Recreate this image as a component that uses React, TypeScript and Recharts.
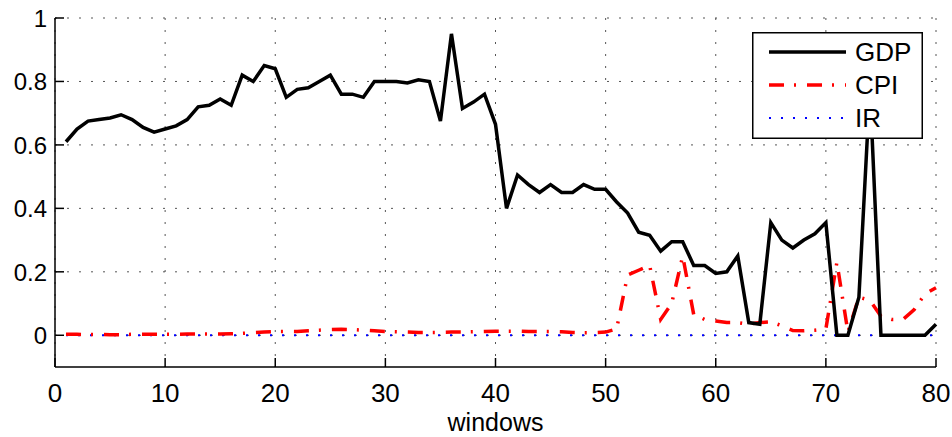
import { LineChart, Line, XAxis, YAxis, CartesianGrid, Legend } from "recharts";

const windows = Array.from({ length: 80 }, (_, i) => i + 1);

const gdp = [
  0.61, 0.65, 0.675, 0.68, 0.685, 0.695, 0.68, 0.655, 0.64, 0.65,
  0.66, 0.68, 0.72, 0.725, 0.745, 0.725, 0.82, 0.8, 0.85, 0.84,
  0.75, 0.775, 0.78, 0.8, 0.82, 0.76, 0.76, 0.75, 0.8, 0.8,
  0.8, 0.795, 0.805, 0.8, 0.675, 0.95, 0.715, 0.735, 0.76, 0.665,
  0.4, 0.505, 0.475, 0.45, 0.475, 0.45, 0.45, 0.475, 0.46, 0.46,
  0.42, 0.385, 0.325, 0.315, 0.265, 0.295, 0.295, 0.22, 0.22, 0.195,
  0.2, 0.25, 0.04, 0.035, 0.355, 0.3, 0.275, 0.3, 0.32, 0.355,
  0.0, 0.0, 0.12, 0.78, 0.0, 0.0, 0.0, 0.0, 0.0, 0.035,
];

const cpi = [
  0.003, 0.003, 0.002, 0.003, 0.002, 0.002, 0.003, 0.003, 0.003, 0.003,
  0.003, 0.004, 0.004, 0.004, 0.004, 0.005, 0.006, 0.008, 0.01, 0.012,
  0.012, 0.012, 0.014, 0.016, 0.018, 0.019, 0.018, 0.016, 0.014, 0.012,
  0.011, 0.01, 0.009, 0.009, 0.009, 0.01, 0.01, 0.011, 0.012, 0.013,
  0.013, 0.013, 0.012, 0.012, 0.012, 0.011, 0.009, 0.008, 0.008, 0.01,
  0.02, 0.19, 0.205, 0.22, 0.05, 0.1, 0.25, 0.065, 0.05, 0.045,
  0.04, 0.04, 0.035, 0.04, 0.042, 0.03, 0.015, 0.014, 0.016, 0.02,
  0.23, 0.01, 0.12, 0.11, 0.06, 0.05, 0.05, 0.08, 0.13, 0.15,
];

const ir = windows.map(() => 0);

const xTicks = [0, 10, 20, 30, 40, 50, 60, 70, 80];
const yTicks = [0, 0.2, 0.4, 0.6, 0.8, 1];

const data = windows.map((w, i) => ({ x: w, GDP: gdp[i], CPI: cpi[i], IR: ir[i] }));

const FONT = "'Liberation Sans', Arial, sans-serif";
const TICK = 9;

const fmtY = (v: number) => (v === 0 ? "0" : v === 1 ? "1" : v.toFixed(1));

const BottomTick = ({ x, y, payload }: any) => (
  <g>
    <line x1={x} x2={x} y1={y} y2={y - TICK} stroke="#000" strokeWidth={1.5} />
    <text x={x} y={y + 35} textAnchor="middle" fontSize={26} fontFamily={FONT} fill="#000">
      {payload.value}
    </text>
  </g>
);

const TopTick = ({ x, y }: any) => (
  <line x1={x} x2={x} y1={y} y2={y + TICK} stroke="#000" strokeWidth={1.5} />
);

const LeftTick = ({ x, y, payload }: any) => (
  <g>
    <line x1={x} x2={x + TICK} y1={y} y2={y} stroke="#000" strokeWidth={1.5} />
    <text x={x - 8} y={y + 9} textAnchor="end" fontSize={24} fontFamily={FONT} fill="#000">
      {fmtY(payload.value)}
    </text>
  </g>
);

const RightTick = ({ x, y }: any) => (
  <line x1={x} x2={x - TICK} y1={y} y2={y} stroke="#000" strokeWidth={1.5} />
);

const XLabel = ({ viewBox }: any) => {
  const cx = viewBox.x + viewBox.width / 2;
  return (
    <text x={cx} y={431} textAnchor="middle" fontSize={25} fontFamily={FONT} fill="#000">
      windows
    </text>
  );
};

const legendRows = [
  { name: "GDP", color: "#000000", dash: undefined, width: 3.5 },
  { name: "CPI", color: "#ff0000", dash: "15 10 2 11", width: 3.5 },
  { name: "IR", color: "#0000ff", dash: "2 10", width: 2 },
];

const LegendBox = () => (
  <svg width={171} height={107} style={{ display: "block" }}>
    <rect x={0.75} y={0.75} width={169.5} height={105.5} fill="#fff" stroke="#000" strokeWidth={1.5} />
    {legendRows.map((r, i) => {
      const cy = 20 + i * 33;
      return (
        <g key={r.name}>
          <line x1={17} x2={94} y1={cy} y2={cy} stroke={r.color} strokeWidth={r.width}
                strokeDasharray={r.dash} />
          <text x={103} y={cy + 9} fontSize={26} fontFamily={FONT} fill="#000">{r.name}</text>
        </g>
      );
    })}
  </svg>
);

export default function App() {
  return (
    <div style={{ position: "absolute", left: 0, top: 0, background: "#fff" }}>
      <LineChart width={952} height={437} data={data}
                 margin={{ top: 18, right: 16, left: 0, bottom: 0 }}>
        <CartesianGrid stroke="#555" strokeDasharray="2 10" strokeWidth={1}
                       horizontalValues={yTicks} verticalValues={xTicks} />
        <XAxis dataKey="x" type="number" domain={[0, 80]} ticks={xTicks} height={70}
               axisLine={{ stroke: "#000", strokeWidth: 1.5 }} tickLine={false}
               tickSize={0} tickMargin={0} tick={<BottomTick />} interval={0}
               label={<XLabel />} />
        <XAxis xAxisId="top" orientation="top" dataKey="x" type="number" domain={[0, 80]}
               ticks={xTicks} height={0} axisLine={{ stroke: "#000", strokeWidth: 1.5 }}
               tickLine={false} tickSize={0} tickMargin={0} tick={<TopTick />} interval={0} />
        <YAxis type="number" domain={[-0.1, 1]} ticks={yTicks} width={55}
               axisLine={{ stroke: "#000", strokeWidth: 1.5 }} tickLine={false}
               tickSize={0} tickMargin={0} tick={<LeftTick />} interval={0} />
        <YAxis yAxisId="right" orientation="right" type="number" domain={[-0.1, 1]}
               ticks={yTicks} width={0} axisLine={{ stroke: "#000", strokeWidth: 1.5 }}
               tickLine={false} tickSize={0} tickMargin={0} tick={<RightTick />} interval={0} />
        <Line type="linear" dataKey="IR" stroke="#0000ff" strokeWidth={2}
              strokeDasharray="2 10" dot={false} isAnimationActive={false} />
        <Line type="linear" dataKey="CPI" stroke="#ff0000" strokeWidth={3.5}
              strokeDasharray="15 10 2 11" dot={false} isAnimationActive={false} />
        <Line type="linear" dataKey="GDP" stroke="#000000" strokeWidth={3.5}
              dot={false} isAnimationActive={false} />
        <Legend layout="vertical" align="center" verticalAlign="middle"
                content={<LegendBox />}
                wrapperStyle={{ left: 752, top: 32, width: 171, height: 107 }} />
      </LineChart>
    </div>
  );
}
